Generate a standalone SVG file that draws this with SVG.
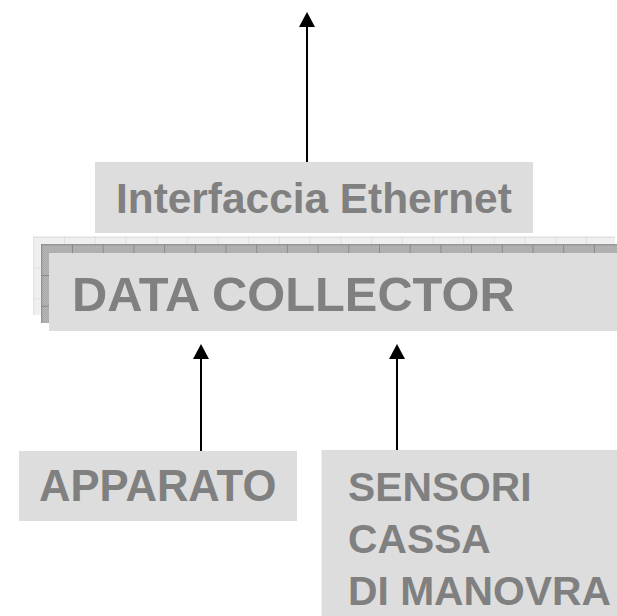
<svg xmlns="http://www.w3.org/2000/svg" width="617" height="616" viewBox="0 0 617 616">
  <defs>
    <style>
      .box { fill: #dddddd; }
      .label { font-family: "Liberation Sans", Arial, sans-serif; font-weight: bold; fill: #808080; }
      .wire { stroke: #000000; stroke-width: 2; fill: none; marker-end: url(#head); }
    </style>
    <marker id="head" markerUnits="userSpaceOnUse" markerWidth="15" markerHeight="16" viewBox="0 0 15 16" refX="0" refY="8" orient="auto">
      <path d="M0,0 L15,8 L0,16 z" fill="#000000"/>
    </marker>
    <!-- fine dither used by the shadow layers -->
    <pattern id="ditherDark" width="2" height="2" patternUnits="userSpaceOnUse">
      <rect width="2" height="2" fill="#b6b6b6"/>
      <rect width="1" height="1" fill="#a9a9a9"/>
      <rect x="1" y="1" width="1" height="1" fill="#a9a9a9"/>
    </pattern>
    <pattern id="ditherLight" width="2" height="2" patternUnits="userSpaceOnUse">
      <rect width="2" height="2" fill="#f3f3f3"/>
      <rect width="1" height="1" fill="#ececec"/>
      <rect x="1" y="1" width="1" height="1" fill="#ececec"/>
    </pattern>
    <!-- grid lines of the stacked layers -->
    <pattern id="gridLight" x="64" y="267.7" width="30.7" height="30.7" patternUnits="userSpaceOnUse">
      <path d="M0.5,0 V30.7 M0,0.5 H30.7" stroke="#e0e0e0" stroke-width="1"/>
    </pattern>
    <pattern id="gridDark" x="72" y="275" width="30.7" height="30.7" patternUnits="userSpaceOnUse">
      <path d="M0.5,0 V30.7 M0,0.5 H30.7" stroke="#8a8a8a" stroke-width="1"/>
    </pattern>
  </defs>

  <!-- connectors -->
  <g id="connectors">
    <line class="wire" x1="307" y1="162" x2="307" y2="27"/>
    <line class="wire" x1="201" y1="451" x2="201" y2="359"/>
    <line class="wire" x1="397" y1="450" x2="397" y2="359"/>
  </g>

  <!-- Ethernet interface -->
  <g id="node-ethernet">
    <rect class="box" x="95" y="162" width="438" height="71"/>
    <text class="label" x="116" y="212.5" font-size="42.4">Interfaccia Ethernet</text>
  </g>

  <!-- data collector with its two stacked back layers -->
  <g id="node-datacollector">
    <rect x="33" y="236" width="582" height="79" fill="url(#ditherLight)"/>
    <rect x="33" y="236" width="582" height="79" fill="url(#gridLight)"/>
    <rect x="41" y="244" width="576" height="79" fill="url(#ditherDark)"/>
    <rect x="41" y="244" width="576" height="79" fill="url(#gridDark)"/>
    <rect class="box" x="49" y="253" width="568" height="78"/>
    <text class="label" x="72" y="311" font-size="48.8">DATA COLLECTOR</text>
  </g>

  <!-- apparatus -->
  <g id="node-apparato">
    <rect class="box" x="19" y="451" width="278" height="70"/>
    <text class="label" x="39" y="501" font-size="43.6">APPARATO</text>
  </g>

  <!-- gearbox sensors -->
  <g id="node-sensori">
    <rect class="box" x="321.5" y="450" width="295.5" height="166"/>
    <text class="label" x="348" y="500.7" font-size="40.8">SENSORI</text>
    <text class="label" x="348" y="553" font-size="40.8">CASSA</text>
    <text class="label" x="348" y="605.3" font-size="40.8">DI MANOVRA</text>
  </g>
</svg>
